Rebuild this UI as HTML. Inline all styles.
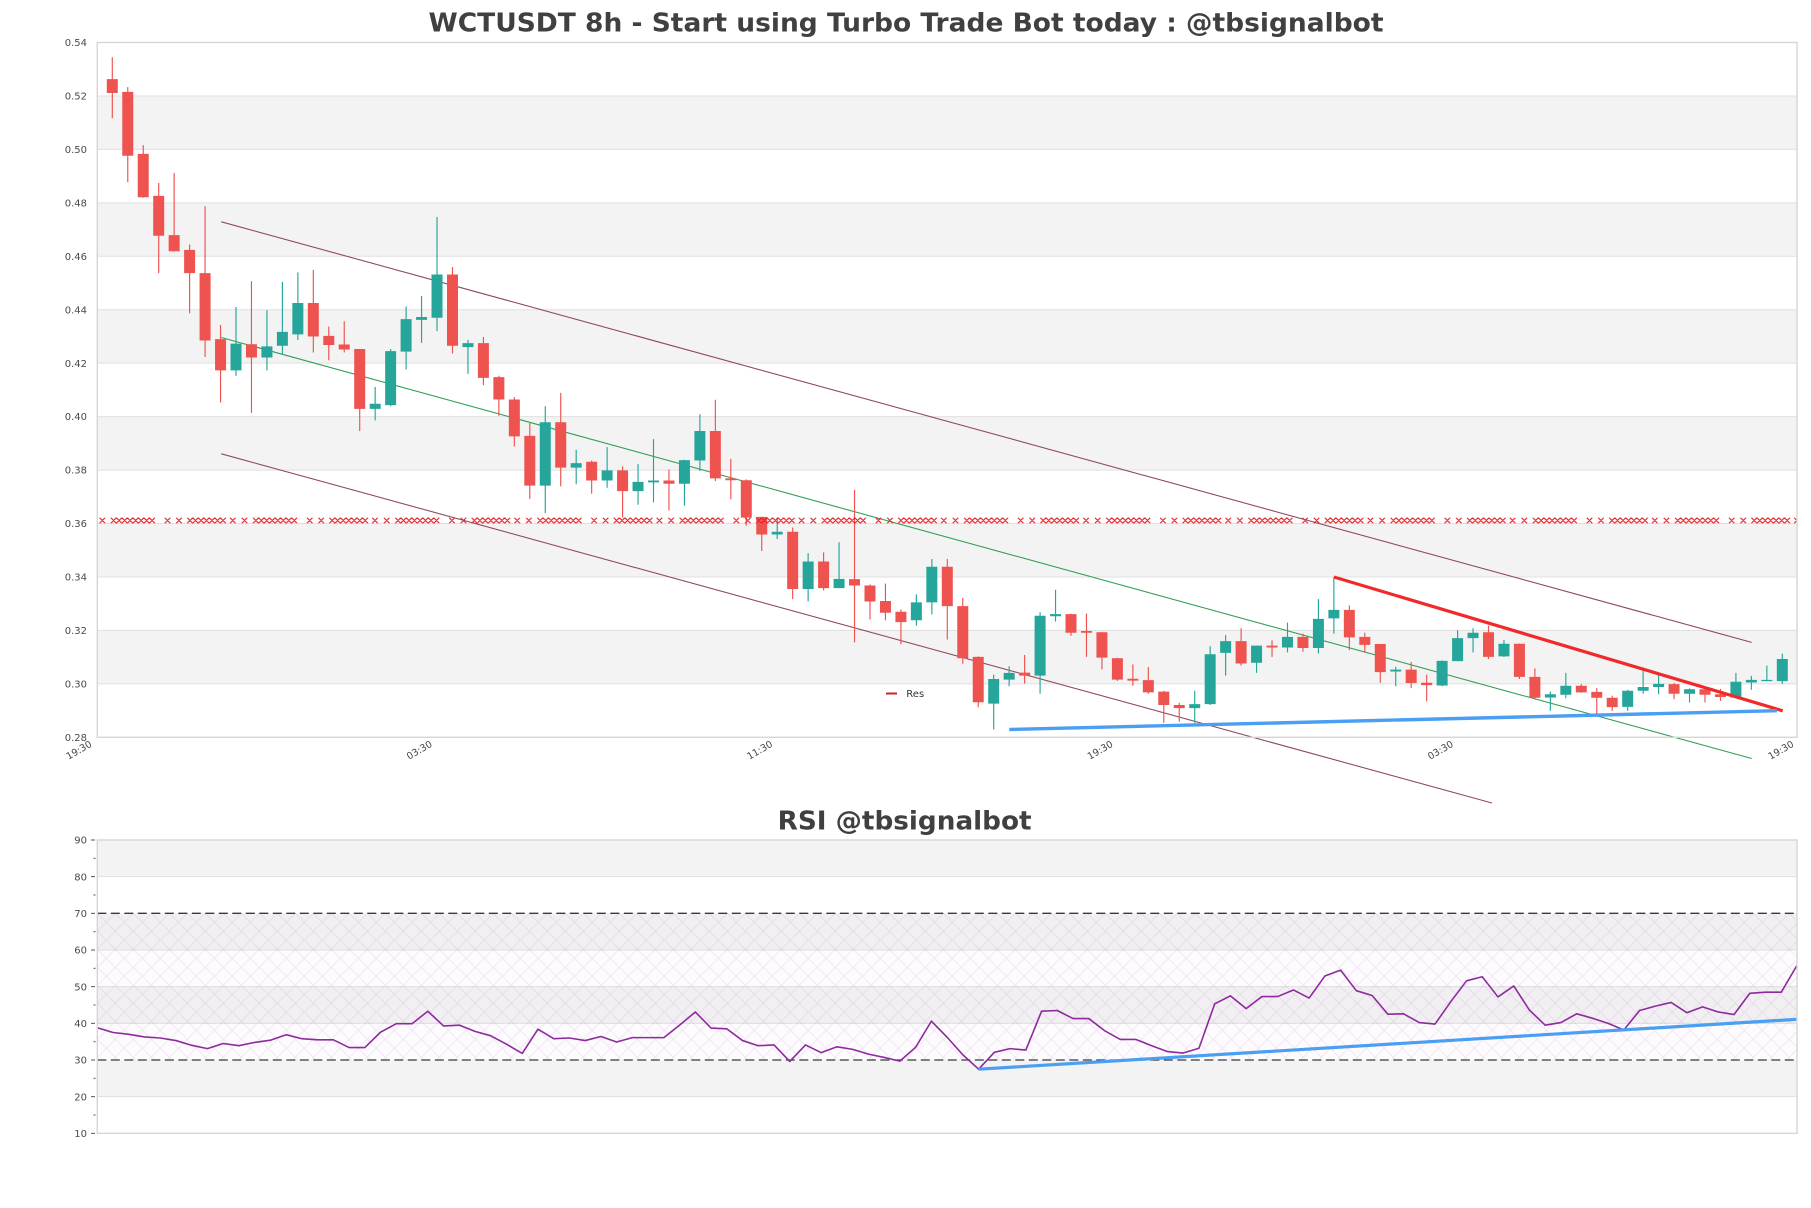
<!DOCTYPE html>
<html>
<head>
<meta charset="utf-8">
<style>
html,body{margin:0;padding:0;background:#fff;}
svg{display:block;}
text{font-family:"DejaVu Sans","Liberation Sans",sans-serif;}
</style>
</head>
<body>
<svg xmlns="http://www.w3.org/2000/svg" width="1811" height="1208" viewBox="0 0 1811 1208">
<defs>
  <pattern id="resx" patternUnits="userSpaceOnUse" x="162.5" y="516.5" width="142.2" height="8">
    <path fill="none" stroke="#e3242b" stroke-width="1.2" d="M2.25 1.25l5.5 5.5m-5.5 0l5.5-5.5M13.75 1.25l5.5 5.5m-5.5 0l5.5-5.5M24.75 1.25l5.5 5.5m-5.5 0l5.5-5.5M30.25 1.25l5.5 5.5m-5.5 0l5.5-5.5M35.75 1.25l5.5 5.5m-5.5 0l5.5-5.5M41.25 1.25l5.5 5.5m-5.5 0l5.5-5.5M46.75 1.25l5.5 5.5m-5.5 0l5.5-5.5M52.25 1.25l5.5 5.5m-5.5 0l5.5-5.5M57.75 1.25l5.5 5.5m-5.5 0l5.5-5.5M67.55 1.25l5.5 5.5m-5.5 0l5.5-5.5M79.25 1.25l5.5 5.5m-5.5 0l5.5-5.5M90.55 1.25l5.5 5.5m-5.5 0l5.5-5.5M96.05 1.25l5.5 5.5m-5.5 0l5.5-5.5M101.55 1.25l5.5 5.5m-5.5 0l5.5-5.5M107.05 1.25l5.5 5.5m-5.5 0l5.5-5.5M112.55 1.25l5.5 5.5m-5.5 0l5.5-5.5M118.05 1.25l5.5 5.5m-5.5 0l5.5-5.5M123.55 1.25l5.5 5.5m-5.5 0l5.5-5.5M129.05 1.25l5.5 5.5m-5.5 0l5.5-5.5"/>
  </pattern>
  <pattern id="hatch" patternUnits="userSpaceOnUse" x="97.3" y="913.33" width="18" height="18">
    <path d="M0 0L18 18M18 0L0 18" stroke="rgba(150,100,170,0.18)" stroke-width="0.7" fill="none"/>
  </pattern>
</defs>

<rect x="0" y="0" width="1811" height="1208" fill="#ffffff"/>

<!-- Main title -->
<text x="906" y="31.7" text-anchor="middle" font-weight="bold" font-size="26" fill="#404040" textLength="955" lengthAdjust="spacingAndGlyphs">WCTUSDT 8h - Start using Turbo Trade Bot today : @tbsignalbot</text>

<!-- ===== MAIN PLOT ===== -->
<g>
  <rect x="97.3" y="95.94" width="1699.7" height="53.45" fill="#f3f3f3"/>
  <rect x="97.3" y="202.84" width="1699.7" height="53.44" fill="#f3f3f3"/>
  <rect x="97.3" y="309.73" width="1699.7" height="53.44" fill="#f3f3f3"/>
  <rect x="97.3" y="416.62" width="1699.7" height="53.45" fill="#f3f3f3"/>
  <rect x="97.3" y="523.51" width="1699.7" height="53.45" fill="#f3f3f3"/>
  <rect x="97.3" y="630.40" width="1699.7" height="53.45" fill="#f3f3f3"/>
</g>
<g stroke="#e0e0e0" stroke-width="1">
  <line x1="97.3" x2="1797" y1="95.94" y2="95.94"/>
  <line x1="97.3" x2="1797" y1="149.39" y2="149.39"/>
  <line x1="97.3" x2="1797" y1="202.84" y2="202.84"/>
  <line x1="97.3" x2="1797" y1="256.28" y2="256.28"/>
  <line x1="97.3" x2="1797" y1="309.73" y2="309.73"/>
  <line x1="97.3" x2="1797" y1="363.17" y2="363.17"/>
  <line x1="97.3" x2="1797" y1="416.62" y2="416.62"/>
  <line x1="97.3" x2="1797" y1="470.07" y2="470.07"/>
  <line x1="97.3" x2="1797" y1="523.51" y2="523.51"/>
  <line x1="97.3" x2="1797" y1="576.96" y2="576.96"/>
  <line x1="97.3" x2="1797" y1="630.40" y2="630.40"/>
  <line x1="97.3" x2="1797" y1="683.85" y2="683.85"/>
</g>

<!-- channel lines (behind candles) -->
<g fill="none" stroke-width="1.1">
  <line x1="221.3" y1="221.8" x2="1751.7" y2="642.4" stroke="#8e4b62"/>
  <line x1="221.3" y1="453.8" x2="1492" y2="803" stroke="#8e4b62"/>
  <line x1="221.3" y1="337.5" x2="1751.7" y2="758.5" stroke="#34a055"/>
</g>

<!-- candles -->
<g transform="matrix(15.463 0 0 -0.26723 112.3 1485.54)">
  <path fill="none" stroke="#26a69a" stroke-width="0.075" d="M8 4153V4410M10 4173V4398M11 4231V4504M12 4287V4540M17 3986V4111M18 4039V4253M19 4176V4412M20 4276V4452M21 4320V4747M23 4160V4287M28 3639V4039M30 3747V3876M32 3734V3886M34 3670V3822M35 3679V3916M37 3667V3839M38 3797V4009M43 3542V3622M45 3308V3489M47 3358V3530M52 3218V3335M53 3260V3467M57 2829V3034M58 2991V3066M60 2963V3268M61 3233V3352M70 2854V2974M71 2921V3141M72 3031V3183M74 3041V3143M76 3118V3229M78 3114V3317M79 3188V3400M83 2991V3064M86 2991V3088M87 3085V3201M88 3118V3208M90 3101V3164M93 2899V2971M94 2946V3041M98 2899V2978M99 2963V3054M100 2961V3036M102 2930V2983M105 2946V3041M106 2978V3030M107 3010V3068M108 2999V3113"/>
  <path fill="none" stroke="#ef5350" stroke-width="0.075" d="M0 5116V5345M1 4877V5233M2 4819V5016M3 4537V4874M4 4617V4911M5 4387V4644M6 4223V4787M7 4053V4343M9 4014V4507M13 4240V4549M14 4211V4337M15 4240V4357M16 3946V4253M22 4236V4560M24 4118V4298M25 4003V4153M26 3888V4073M27 3692V3976M29 3739V4089M31 3712V3836M33 3622V3814M36 3649V3802M39 3759V4063M40 3691V3842M41 3592V3765M42 3497V3625M44 3317V3585M46 3350V3492M48 3155V3726M49 3241V3372M50 3238V3375M51 3148V3278M54 3166V3467M55 3075V3322M56 2913V3103M59 3001V3108M62 3180V3263M63 3101V3263M64 3054V3195M65 3011V3098M66 2993V3073M67 2963V3063M68 2854V2974M69 2858V2929M73 3068V3208M75 3101V3163M77 3120V3188M80 3126V3293M81 3117V3191M82 3004V3149M84 2984V3082M85 2935V3034M89 3093V3218M91 3018V3151M92 2941V3058M95 2966V2999M96 2884V2984M97 2899V2956M101 2943V3003M103 2930V2986M104 2936V2981"/>
  <g transform="translate(-0.3555 0)">
    <path fill="#26a69a" d="M8 4173h.711v100h-.711zM10 4221h.711v42h-.711zM11 4265h.711v52h-.711zM12 4308h.711v117h-.711zM17 4029h.711v19h-.711zM18 4043h.711v202h-.711zM19 4243h.711v122h-.711zM20 4362h.711v11h-.711zM21 4370h.711v162h-.711zM23 4260h.711v15h-.711zM28 3742h.711v237h-.711zM30 3809h.711v17h-.711zM32 3761h.711v38h-.711zM34 3721h.711v35h-.711zM35 3754h.711v7h-.711zM37 3749h.711v88h-.711zM38 3836h.711v110h-.711zM43 3559h.711v10h-.711zM45 3355h.711v103h-.711zM47 3358h.711v35h-.711zM52 3238h.711v67h-.711zM53 3305h.711v133h-.711zM57 2926h.711v92h-.711zM58 3016h.711v25h-.711zM60 3031h.711v224h-.711zM61 3253h.711v8h-.711zM70 2909h.711v15h-.711zM71 2924h.711v187h-.711zM72 3116h.711v44h-.711zM74 3079h.711v64h-.711zM76 3136h.711v40h-.711zM78 3134h.711v109h-.711zM79 3245h.711v32h-.711zM83 3046h.711v7h-.711zM86 2994h.711v92h-.711zM87 3085h.711v86h-.711zM88 3171h.711v20h-.711zM90 3103h.711v47h-.711zM93 2949h.711v12h-.711zM94 2959h.711v34h-.711zM98 2914h.711v60h-.711zM99 2974h.711v14h-.711zM100 2988h.711v12h-.711zM102 2963h.711v17h-.711zM105 2949h.711v59h-.711zM106 3005h.711v10h-.711zM107 3010h.711v5h-.711zM108 3010h.711v83h-.711z"/>
    <path fill="#ef5350" d="M0 5211h.711v52h-.711zM1 4976h.711v239h-.711zM2 4821h.711v162h-.711zM3 4677h.711v149h-.711zM4 4619h.711v60h-.711zM5 4537h.711v87h-.711zM6 4285h.711v252h-.711zM7 4173h.711v117h-.711zM9 4221h.711v50h-.711zM13 4300h.711v125h-.711zM14 4268h.711v34h-.711zM15 4251h.711v19h-.711zM16 4029h.711v224h-.711zM22 4265h.711v267h-.711zM24 4145h.711v130h-.711zM25 4064h.711v84h-.711zM26 3926h.711v138h-.711zM27 3742h.711v186h-.711zM29 3809h.711v170h-.711zM31 3761h.711v70h-.711zM33 3721h.711v78h-.711zM36 3749h.711v12h-.711zM39 3769h.711v177h-.711zM40 3762h.711v7h-.711zM41 3622h.711v140h-.711zM42 3559h.711v66h-.711zM44 3355h.711v214h-.711zM46 3358h.711v100h-.711zM48 3368h.711v24h-.711zM49 3308h.711v60h-.711zM50 3266h.711v44h-.711zM51 3231h.711v39h-.711zM54 3291h.711v147h-.711zM55 3096h.711v195h-.711zM56 2931h.711v170h-.711zM59 3031h.711v11h-.711zM62 3191h.711v70h-.711zM63 3191h.711v7h-.711zM64 3098h.711v95h-.711zM65 3016h.711v80h-.711zM66 3012h.711v7h-.711zM67 2968h.711v46h-.711zM68 2921h.711v50h-.711zM69 2909h.711v12h-.711zM73 3076h.711v84h-.711zM75 3136h.711v7h-.711zM77 3134h.711v42h-.711zM80 3174h.711v103h-.711zM81 3146h.711v30h-.711zM82 3044h.711v105h-.711zM84 3003h.711v50h-.711zM85 2995h.711v9h-.711zM89 3101h.711v92h-.711zM91 3026h.711v124h-.711zM92 2948h.711v78h-.711zM95 2968h.711v25h-.711zM96 2948h.711v22h-.711zM97 2913h.711v35h-.711zM101 2963h.711v36h-.711zM103 2959h.711v21h-.711zM104 2951h.711v10h-.711z"/>
  </g>
</g>

<!-- Res x-marker line -->
<rect x="97.3" y="516.5" width="1699.7" height="8" fill="url(#resx)"/>

<!-- thick trend lines -->
<line x1="1333.9" y1="577" x2="1782.7" y2="710.8" stroke="#f02a2a" stroke-width="3.2"/>
<line x1="1009.3" y1="729.5" x2="1777" y2="710.7" stroke="#4a9ff2" stroke-width="3.4"/>

<!-- main border -->
<rect x="97.3" y="42.5" width="1699.7" height="694.8" fill="none" stroke="#d6d6d6" stroke-width="1.4"/>

<!-- legend -->
<line x1="886" y1="693.5" x2="897" y2="693.5" stroke="#d0202a" stroke-width="2"/>
<text x="906.3" y="697" font-size="10" fill="#333">Res</text>

<!-- y labels main -->
<g font-size="10" fill="#4a4a4a" text-anchor="end">
  <text x="87" y="46.1">0.54</text>
  <text x="87" y="99.5">0.52</text>
  <text x="87" y="153.0">0.50</text>
  <text x="87" y="206.4">0.48</text>
  <text x="87" y="259.9">0.46</text>
  <text x="87" y="313.3">0.44</text>
  <text x="87" y="366.8">0.42</text>
  <text x="87" y="420.2">0.40</text>
  <text x="87" y="473.7">0.38</text>
  <text x="87" y="527.1">0.36</text>
  <text x="87" y="580.6">0.34</text>
  <text x="87" y="634.0">0.32</text>
  <text x="87" y="687.5">0.30</text>
  <text x="87" y="740.9">0.28</text>
</g>

<!-- x labels -->
<g font-size="9.6" fill="#444" text-anchor="end">
  <text x="92.5" y="746" transform="rotate(-30 92.5 746)">19:30</text>
  <text x="432.9" y="746" transform="rotate(-30 432.9 746)">03:30</text>
  <text x="773.3" y="746" transform="rotate(-30 773.3 746)">11:30</text>
  <text x="1113.7" y="746" transform="rotate(-30 1113.7 746)">19:30</text>
  <text x="1454.1" y="746" transform="rotate(-30 1454.1 746)">03:30</text>
  <text x="1794.5" y="746" transform="rotate(-30 1794.5 746)">19:30</text>
</g>

<!-- ===== RSI PLOT ===== -->
<text x="904.6" y="829.3" text-anchor="middle" font-weight="bold" font-size="26" fill="#404040" textLength="254" lengthAdjust="spacingAndGlyphs">RSI @tbsignalbot</text>

<g fill="#f3f3f3">
  <rect x="97.3" y="840" width="1699.7" height="36.67"/>
  <rect x="97.3" y="913.33" width="1699.7" height="36.67"/>
  <rect x="97.3" y="986.67" width="1699.7" height="36.66"/>
  <rect x="97.3" y="1060" width="1699.7" height="36.67"/>
</g>
<g stroke="#e0e0e0" stroke-width="1">
  <line x1="97.3" x2="1797" y1="876.67" y2="876.67"/>
  <line x1="97.3" x2="1797" y1="950" y2="950"/>
  <line x1="97.3" x2="1797" y1="986.67" y2="986.67"/>
  <line x1="97.3" x2="1797" y1="1023.33" y2="1023.33"/>
  <line x1="97.3" x2="1797" y1="1096.67" y2="1096.67"/>
</g>
<!-- hatched 30-70 zone -->
<rect x="97.3" y="913.33" width="1699.7" height="146.67" fill="rgba(210,170,225,0.05)"/>
<rect x="97.3" y="913.33" width="1699.7" height="146.67" fill="url(#hatch)"/>

<!-- dashed 70 / 30 -->
<line x1="97.3" x2="1797" y1="913.33" y2="913.33" stroke="#3a3a3a" stroke-width="1.3" stroke-dasharray="9,4.5"/>
<line x1="97.3" x2="1797" y1="1060" y2="1060" stroke="#3a3a3a" stroke-width="1.3" stroke-dasharray="9,4.5"/>

<!-- RSI line -->
<g transform="matrix(15.738 0 0 -3.6667 97.3 1170)">
  <polyline fill="none" stroke="#8e2a9e" stroke-width="1.6" vector-effect="non-scaling-stroke" stroke-linejoin="round" points="0,38.8 1,37.5 2,37 3,36.3 4,36 5,35.3 6,34 7,33.1 8,34.5 9,33.9 10,34.8 11,35.4 12,36.9 13,35.8 14,35.5 15,35.5 16,33.4 17,33.4 18,37.6 19,39.9 20,39.9 21,43.3 22,39.3 23,39.5 24,37.8 25,36.6 26,34.3 27,31.8 28,38.4 29,35.8 30,36 31,35.3 32,36.4 33,34.9 34,36.1 35,36.1 36,36.1 37,39.5 38,43.1 39,38.7 40,38.5 41,35.3 42,33.9 43,34.1 44,29.6 45,34.1 46,32 47,33.6 48,32.9 49,31.6 50,30.7 51,29.7 52,33.5 53,40.6 54,36.2 55,31.4 56,27.5 57,32.1 58,33.1 59,32.7 60,43.3 61,43.5 62,41.3 63,41.3 64,38 65,35.6 66,35.6 67,33.9 68,32.3 69,31.9 70,33.2 71,45.3 72,47.5 73,44 74,47.3 75,47.3 76,49.1 77,46.9 78,52.9 79,54.5 80,48.9 81,47.6 82,42.5 83,42.6 84,40.2 85,39.8 86,45.9 87,51.6 88,52.7 89,47.2 90,50.2 91,43.6 92,39.5 93,40.2 94,42.6 95,41.4 96,40 97,38.2 98,43.5 99,44.7 100,45.7 101,42.9 102,44.5 103,43.1 104,42.4 105,48.2 106,48.5 107,48.5 108,55.8"/>
</g>

<!-- RSI blue trend -->
<line x1="978.6" y1="1069.2" x2="1797.3" y2="1019.3" stroke="#4a9ff2" stroke-width="3.2"/>

<!-- RSI border -->
<rect x="97.3" y="840" width="1699.7" height="293.33" fill="none" stroke="#d6d6d6" stroke-width="1.4"/>

<!-- RSI ticks -->
<g stroke="#555" stroke-width="1">
  <line x1="91" x2="95" y1="840" y2="840"/>
  <line x1="91" x2="95" y1="876.67" y2="876.67"/>
  <line x1="91" x2="95" y1="913.33" y2="913.33"/>
  <line x1="91" x2="95" y1="950" y2="950"/>
  <line x1="91" x2="95" y1="986.67" y2="986.67"/>
  <line x1="91" x2="95" y1="1023.33" y2="1023.33"/>
  <line x1="91" x2="95" y1="1060" y2="1060"/>
  <line x1="91" x2="95" y1="1096.67" y2="1096.67"/>
  <line x1="91" x2="95" y1="1133.33" y2="1133.33"/>
  <line x1="93.5" x2="95.5" y1="858.3" y2="858.3"/>
  <line x1="93.5" x2="95.5" y1="895" y2="895"/>
  <line x1="93.5" x2="95.5" y1="931.7" y2="931.7"/>
  <line x1="93.5" x2="95.5" y1="968.3" y2="968.3"/>
  <line x1="93.5" x2="95.5" y1="1005" y2="1005"/>
  <line x1="93.5" x2="95.5" y1="1041.7" y2="1041.7"/>
  <line x1="93.5" x2="95.5" y1="1078.3" y2="1078.3"/>
  <line x1="93.5" x2="95.5" y1="1115" y2="1115"/>
</g>
<g font-size="10" fill="#4a4a4a" text-anchor="end">
  <text x="87" y="843.6">90</text>
  <text x="87" y="880.3">80</text>
  <text x="87" y="916.9">70</text>
  <text x="87" y="953.6">60</text>
  <text x="87" y="990.3">50</text>
  <text x="87" y="1026.9">40</text>
  <text x="87" y="1063.6">30</text>
  <text x="87" y="1100.3">20</text>
  <text x="87" y="1136.9">10</text>
</g>
</svg>
</body>
</html>
